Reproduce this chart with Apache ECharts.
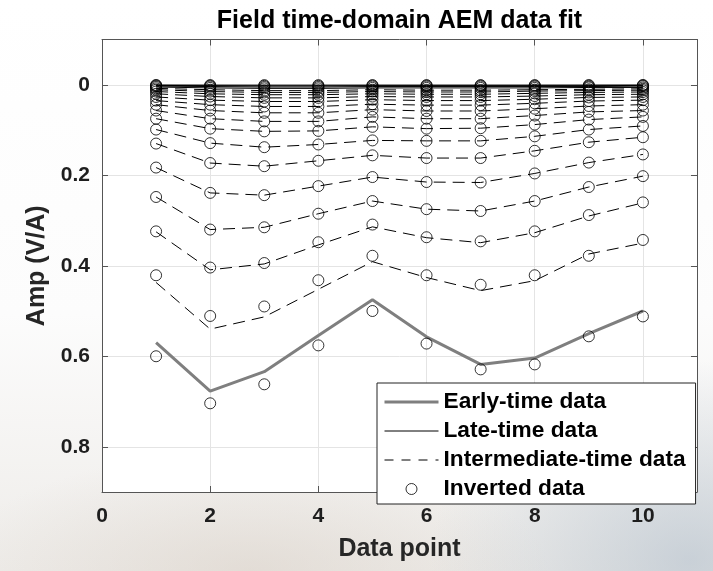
<!DOCTYPE html>
<html>
<head>
<meta charset="utf-8">
<script src="https://cdn.jsdelivr.net/npm/echarts@6/dist/echarts.min.js"></script>
<style>
html,body{margin:0;padding:0;}
body{width:713px;height:571px;overflow:hidden;
background:
 radial-gradient(ellipse 260px 200px at 690px 560px, rgba(170,185,200,0.55), rgba(170,185,200,0) 100%),
 radial-gradient(ellipse 300px 120px at 250px 571px, rgba(215,205,195,0.5), rgba(215,205,195,0) 100%),
 linear-gradient(to bottom, #ffffff 0%, #fcfcfc 55%, #eeece9 100%);}
#chart{width:713px;height:571px;}
</style>
</head>
<body>
<div id="chart"></div>
<script>
// ---- data ----
const dataPoints = [1, 2, 3, 4, 5, 6, 7, 8, 9, 10];
const xTicks = [0, 2, 4, 6, 8, 10];
const yTicks = [0, 0.2, 0.4, 0.6, 0.8];

const earlyLine = [0.570, 0.677, 0.634, 0.554, 0.475, 0.557, 0.618, 0.604, 0.550, 0.500];
const earlyInv  = [0.600, 0.704, 0.662, 0.576, 0.500, 0.572, 0.629, 0.618, 0.556, 0.512];

const mid01Line = [0.437, 0.540, 0.513, 0.452, 0.391, 0.426, 0.455, 0.433, 0.374, 0.350];
const mid01Inv  = [0.421, 0.511, 0.490, 0.432, 0.378, 0.421, 0.442, 0.421, 0.378, 0.343];
const mid02Line = [0.325, 0.409, 0.396, 0.354, 0.314, 0.338, 0.349, 0.327, 0.290, 0.261];
const mid02Inv  = [0.324, 0.404, 0.394, 0.348, 0.309, 0.337, 0.346, 0.324, 0.288, 0.260];
const mid03 = [0.248, 0.320, 0.315, 0.285, 0.257, 0.275, 0.279, 0.257, 0.226, 0.202];
const mid04 = [0.183, 0.239, 0.244, 0.224, 0.204, 0.215, 0.216, 0.196, 0.172, 0.154];
const mid05 = [0.130, 0.173, 0.180, 0.168, 0.156, 0.162, 0.162, 0.146, 0.127, 0.116];
const mid06 = [0.099, 0.129, 0.138, 0.132, 0.123, 0.124, 0.124, 0.114, 0.099, 0.091];
const mid07 = [0.075, 0.097, 0.103, 0.102, 0.093, 0.097, 0.096, 0.088, 0.077, 0.071];
const mid08 = [0.057, 0.075, 0.081, 0.081, 0.071, 0.075, 0.075, 0.068, 0.060, 0.057];
const mid09 = [0.044, 0.057, 0.062, 0.062, 0.055, 0.058, 0.058, 0.053, 0.047, 0.044];
const mid10 = [0.035, 0.044, 0.048, 0.048, 0.043, 0.045, 0.045, 0.041, 0.036, 0.034];
const mid11 = [0.027, 0.034, 0.037, 0.037, 0.033, 0.035, 0.035, 0.032, 0.028, 0.027];
const mid12 = [0.020, 0.026, 0.029, 0.029, 0.026, 0.027, 0.027, 0.025, 0.022, 0.021];
const mid13 = [0.015, 0.020, 0.022, 0.022, 0.020, 0.021, 0.021, 0.019, 0.017, 0.016];
const mid14 = [0.011, 0.015, 0.017, 0.017, 0.015, 0.016, 0.016, 0.014, 0.013, 0.012];
const mid15 = [0.008, 0.011, 0.013, 0.013, 0.011, 0.012, 0.012, 0.011, 0.010, 0.009];

const late1 = [0.005, 0.007, 0.008, 0.008, 0.007, 0.007, 0.007, 0.007, 0.006, 0.006];
const late2 = [0.003, 0.004, 0.005, 0.005, 0.004, 0.004, 0.004, 0.004, 0.004, 0.003];
const late3 = [0.0015, 0.002, 0.0025, 0.0025, 0.002, 0.002, 0.002, 0.002, 0.002, 0.0015];
const late4 = [0.0005, 0.0007, 0.0008, 0.0008, 0.0007, 0.0007, 0.0007, 0.0007, 0.0006, 0.0005];

// ---- build ----
const midLines = [mid01Line, mid02Line, mid03, mid04, mid05, mid06, mid07, mid08, mid09, mid10, mid11, mid12, mid13, mid14, mid15];
const midInvs  = [mid01Inv, mid02Inv, mid03, mid04, mid05, mid06, mid07, mid08, mid09, mid10, mid11, mid12, mid13, mid14, mid15];
const lateLines = [late1, late2, late3, late4];

const toPts = arr => arr.map((v, i) => [dataPoints[i], v]);
const FONT = '"Liberation Sans", Arial, sans-serif';
const series = [];

midLines.forEach(arr => series.push({
  type: 'line', name: 'Intermediate-time data', data: toPts(arr),
  symbol: 'none', showSymbol: false, silent: true, z: 2,
  itemStyle: {color: '#000'},
  lineStyle: {color: '#000', width: 1, type: [12, 7]}
}));
lateLines.forEach(arr => series.push({
  type: 'line', name: 'Late-time data', data: toPts(arr),
  symbol: 'none', showSymbol: false, silent: true, z: 2,
  itemStyle: {color: '#000'},
  lineStyle: {color: '#000', width: 1, type: 'solid'}
}));
series.push({
  type: 'line', name: 'Early-time data', data: toPts(earlyLine),
  symbol: 'none', showSymbol: false, silent: true, z: 3,
  itemStyle: {color: '#7f7f7f'},
  lineStyle: {color: '#7f7f7f', width: 3}
});
let invPts = [];
[earlyInv].concat(midInvs, lateLines).forEach(arr => { invPts = invPts.concat(toPts(arr)); });
series.push({
  type: 'scatter', name: 'Inverted data', data: invPts,
  symbol: 'circle', symbolSize: 11, silent: true, z: 4,
  itemStyle: {color: 'rgba(0,0,0,0)', borderColor: '#000', borderWidth: 1}
});

const labelStyle = {fontSize: 21, fontWeight: 'bold', color: '#1e1e1e', fontFamily: FONT};
const nameStyle = {fontSize: 25, fontWeight: 'bold', color: '#262626', fontFamily: FONT};
const axisCol = '#555';
const hideSym = {opacity: 0};

const chart = echarts.init(document.getElementById('chart'), null, {renderer: 'canvas'});
chart.setOption({
  animation: false,
  backgroundColor: 'transparent',
  title: {
    text: 'Field time-domain AEM data fit', left: 399.5, top: 9, textAlign: 'center', padding: 0,
    textStyle: {fontSize: 25, fontWeight: 'bold', color: '#000', fontFamily: FONT}
  },
  grid: {left: 102, right: 16, top: 39.5, bottom: 79, show: true, backgroundColor: '#fff', borderWidth: 0, containLabel: false},
  legend: {
    orient: 'vertical', left: 377, top: 383,
    padding: [7, 10, 3, 6], itemGap: 5, itemWidth: 54, itemHeight: 11,
    backgroundColor: '#fff', borderColor: '#222', borderWidth: 1, borderRadius: 0,
    selectedMode: false,
    textStyle: {fontSize: 22.7, fontWeight: 'bold', color: '#000', fontFamily: FONT, lineHeight: 24},
    data: [
      {name: 'Early-time data', itemStyle: hideSym, lineStyle: {width: 3, color: '#7f7f7f'}},
      {name: 'Late-time data', itemStyle: hideSym, lineStyle: {width: 1, color: '#000'}},
      {name: 'Intermediate-time data', itemStyle: hideSym, lineStyle: {width: 1, color: '#000', type: [9, 8]}},
      {name: 'Inverted data', itemStyle: {color: 'rgba(0,0,0,0)', borderColor: '#000', borderWidth: 1}}
    ]
  },
  xAxis: [{
    type: 'value', min: 0, max: 11, interval: 2, position: 'bottom',
    name: 'Data point', nameLocation: 'middle', nameGap: 45,
    nameTextStyle: nameStyle,
    axisLine: {show: true, onZero: false, lineStyle: {color: axisCol}},
    axisTick: {show: true, inside: true, length: 6, lineStyle: {color: axisCol}},
    axisLabel: Object.assign({margin: 14, showMaxLabel: false}, labelStyle),
    splitLine: {show: true, lineStyle: {color: '#e4e4e4'}}
  }, {
    type: 'value', min: 0, max: 11, interval: 2, position: 'top',
    axisLine: {show: true, onZero: false, lineStyle: {color: axisCol}},
    axisTick: {show: true, inside: true, length: 6, lineStyle: {color: axisCol}},
    axisLabel: {show: false}, splitLine: {show: false}
  }],
  yAxis: [{
    type: 'value', inverse: true, min: -0.1, max: 0.9, splitNumber: 5, position: 'left',
    name: 'Amp (V/A)', nameLocation: 'middle', nameGap: 52,
    nameTextStyle: nameStyle,
    axisLine: {show: true, onZero: false, lineStyle: {color: axisCol}},
    axisTick: {show: true, inside: true, length: 6, lineStyle: {color: axisCol}},
    axisLabel: Object.assign({margin: 12, showMinLabel: false, showMaxLabel: false,
      formatter: v => { const r = Math.round(v * 10) / 10; return yTicks.some(t => Math.abs(t - r) < 1e-9) ? String(r === 0 ? 0 : r) : ''; }}, labelStyle),
    splitLine: {show: true, lineStyle: {color: '#e4e4e4'}}
  }, {
    type: 'value', inverse: true, min: -0.1, max: 0.9, splitNumber: 5, position: 'right',
    axisLine: {show: true, onZero: false, lineStyle: {color: axisCol}},
    axisTick: {show: true, inside: true, length: 6, lineStyle: {color: axisCol}},
    axisLabel: {show: false}, splitLine: {show: false}
  }],
  series: series
});
</script>
</body>
</html>
